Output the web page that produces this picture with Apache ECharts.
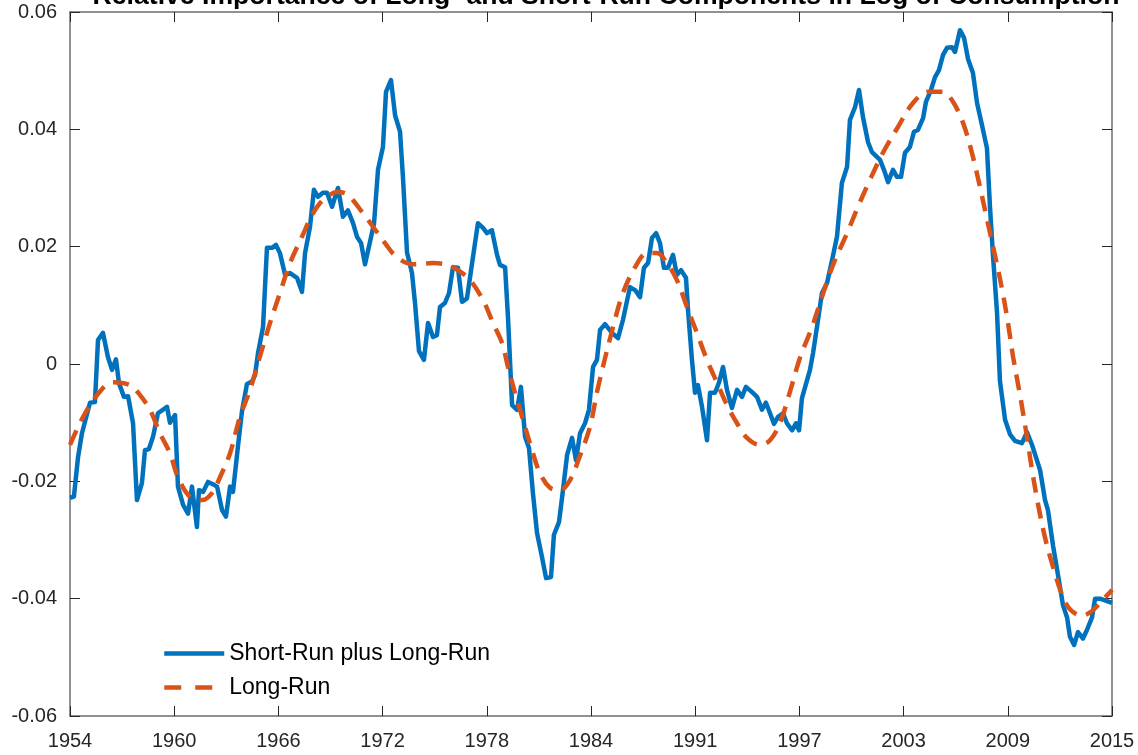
<!DOCTYPE html>
<html>
<head>
<meta charset="utf-8">
<script src="https://cdn.jsdelivr.net/npm/echarts@6/dist/echarts.min.js"></script>
<style>html,body{margin:0;padding:0;background:#fff;}#c{width:1138px;height:755px;}</style>
</head>
<body>
<div id="c"></div>
<script>
const titleText = 'Relative Importance of Long- and Short-Run Components in Log of Consumption';
const seriesNames = ['Short-Run plus Long-Run', 'Long-Run'];
const xTickLabels = ['1954','1960','1966','1972','1978','1984','1991','1997','2003','2009','2015'];
const xMin = 1954, xMax = 2015;
const yMin = -0.06, yMax = 0.06, yStep = 0.02;

const shortRunPlusLongRun = [
[1954.00,-0.0228],[1954.23,-0.0226],[1954.47,-0.0159],[1954.70,-0.0118],[1955.17,-0.0066],[1955.46,-0.0065],[1955.64,0.0041],[1955.93,0.0053],[1956.22,0.0012],[1956.46,-0.0010],[1956.69,0.0008],[1956.87,-0.0033],[1957.16,-0.0056],[1957.40,-0.0055],[1957.69,-0.0101],[1957.92,-0.0232],[1958.21,-0.0203],[1958.39,-0.0147],[1958.62,-0.0145],[1958.86,-0.0124],[1959.15,-0.0084],[1959.68,-0.0073],[1959.85,-0.0100],[1960.15,-0.0087],[1960.32,-0.0209],[1960.62,-0.0240],[1960.91,-0.0255],[1961.14,-0.0209],[1961.43,-0.0278],[1961.55,-0.0215],[1961.79,-0.0218],[1962.08,-0.0201],[1962.43,-0.0206],[1962.61,-0.0209],[1962.90,-0.0249],[1963.13,-0.0260],[1963.37,-0.0209],[1963.54,-0.0218],[1963.83,-0.0141],[1964.07,-0.0080],[1964.36,-0.0034],[1964.65,-0.0030],[1964.83,-0.0019],[1965.01,0.0019],[1965.30,0.0063],[1965.53,0.0198],[1965.83,0.0198],[1966.06,0.0203],[1966.29,0.0189],[1966.59,0.0152],[1966.88,0.0155],[1967.29,0.0147],[1967.58,0.0123],[1967.76,0.0189],[1968.05,0.0234],[1968.28,0.0297],[1968.52,0.0285],[1968.81,0.0292],[1969.05,0.0292],[1969.34,0.0268],[1969.69,0.0300],[1969.98,0.0251],[1970.27,0.0262],[1970.57,0.0240],[1970.80,0.0217],[1971.04,0.0206],[1971.27,0.0170],[1971.56,0.0208],[1971.80,0.0240],[1972.03,0.0331],[1972.32,0.0370],[1972.50,0.0464],[1972.79,0.0484],[1973.03,0.0424],[1973.32,0.0396],[1973.49,0.0319],[1973.73,0.0190],[1974.02,0.0155],[1974.20,0.0103],[1974.43,0.0022],[1974.72,0.0007],[1974.96,0.0070],[1975.25,0.0046],[1975.48,0.0049],[1975.66,0.0097],[1975.95,0.0104],[1976.19,0.0121],[1976.42,0.0165],[1976.71,0.0164],[1976.95,0.0106],[1977.24,0.0112],[1977.42,0.0148],[1977.88,0.0240],[1978.18,0.0232],[1978.41,0.0223],[1978.70,0.0228],[1979.00,0.0186],[1979.17,0.0169],[1979.47,0.0165],[1979.64,0.0080],[1979.88,-0.0070],[1980.17,-0.0078],[1980.40,-0.0039],[1980.64,-0.0124],[1980.87,-0.0143],[1981.10,-0.0220],[1981.34,-0.0288],[1981.63,-0.0329],[1981.87,-0.0365],[1982.16,-0.0363],[1982.33,-0.0291],[1982.63,-0.0269],[1982.86,-0.0215],[1983.10,-0.0155],[1983.39,-0.0126],[1983.62,-0.0164],[1983.86,-0.0118],[1984.15,-0.0101],[1984.38,-0.0078],[1984.62,-0.0005],[1984.85,0.0007],[1985.03,0.0058],[1985.32,0.0068],[1985.73,0.0053],[1986.08,0.0044],[1986.37,0.0075],[1986.78,0.0131],[1987.08,0.0126],[1987.37,0.0114],[1987.60,0.0164],[1987.84,0.0172],[1988.07,0.0215],[1988.31,0.0223],[1988.54,0.0206],[1988.77,0.0164],[1989.01,0.0164],[1989.30,0.0186],[1989.53,0.0152],[1989.77,0.0160],[1990.06,0.0147],[1990.18,0.0092],[1990.41,0.0007],[1990.59,-0.0049],[1990.76,-0.0036],[1991.00,-0.0073],[1991.29,-0.0130],[1991.47,-0.0049],[1991.76,-0.0049],[1991.99,-0.0032],[1992.23,-0.0005],[1992.46,-0.0044],[1992.75,-0.0075],[1993.05,-0.0044],[1993.34,-0.0056],[1993.57,-0.0039],[1993.93,-0.0048],[1994.22,-0.0056],[1994.51,-0.0078],[1994.74,-0.0066],[1994.98,-0.0084],[1995.21,-0.0102],[1995.45,-0.0090],[1995.74,-0.0084],[1995.97,-0.0101],[1996.27,-0.0113],[1996.50,-0.0101],[1996.68,-0.0113],[1996.85,-0.0058],[1997.32,-0.0010],[1997.50,0.0019],[1997.79,0.0075],[1998.02,0.0121],[1998.32,0.0138],[1998.61,0.0177],[1998.90,0.0217],[1999.19,0.0309],[1999.49,0.0336],[1999.66,0.0416],[1999.96,0.0438],[2000.19,0.0467],[2000.42,0.0421],[2000.72,0.0378],[2000.95,0.0361],[2001.24,0.0353],[2001.42,0.0348],[2001.65,0.0331],[2001.89,0.0310],[2002.18,0.0331],[2002.41,0.0319],[2002.65,0.0319],[2002.88,0.0360],[2003.17,0.0370],[2003.41,0.0396],[2003.64,0.0399],[2003.94,0.0419],[2004.11,0.0447],[2004.40,0.0467],[2004.64,0.0489],[2004.87,0.0501],[2005.11,0.0527],[2005.34,0.0539],[2005.63,0.0540],[2005.81,0.0532],[2006.10,0.0569],[2006.34,0.0556],[2006.57,0.0520],[2006.86,0.0496],[2007.10,0.0445],[2007.39,0.0407],[2007.68,0.0368],[2007.86,0.0266],[2008.03,0.0186],[2008.27,0.0087],[2008.44,-0.0029],[2008.74,-0.0095],[2009.03,-0.0120],[2009.32,-0.0131],[2009.73,-0.0135],[2010.02,-0.0116],[2010.32,-0.0138],[2010.79,-0.0181],[2011.08,-0.0232],[2011.25,-0.0249],[2011.55,-0.0310],[2011.84,-0.0360],[2012.13,-0.0411],[2012.37,-0.0432],[2012.54,-0.0465],[2012.78,-0.0479],[2013.01,-0.0457],[2013.30,-0.0468],[2013.54,-0.0453],[2013.83,-0.0432],[2014.01,-0.0400],[2014.30,-0.0400],[2014.71,-0.0404],[2015.00,-0.0407]
];

const longRun = [
[1954.00,-0.0138],[1954.88,-0.0084],[1955.93,-0.0041],[1956.52,-0.0031],[1957.51,-0.0036],[1958.10,-0.0053],[1958.68,-0.0078],[1959.27,-0.0118],[1959.85,-0.0152],[1960.32,-0.0193],[1961.03,-0.0227],[1961.73,-0.0232],[1962.31,-0.0220],[1962.78,-0.0193],[1963.37,-0.0152],[1963.95,-0.0090],[1964.54,-0.0044],[1965.12,0.0013],[1965.71,0.0070],[1966.29,0.0121],[1966.88,0.0172],[1967.58,0.0217],[1968.23,0.0257],[1968.93,0.0283],[1969.69,0.0293],[1970.27,0.0288],[1971.15,0.0257],[1971.74,0.0234],[1972.44,0.0206],[1973.14,0.0182],[1974.08,0.0170],[1975.25,0.0172],[1976.07,0.0169],[1976.71,0.0160],[1977.42,0.0143],[1978.18,0.0109],[1978.76,0.0070],[1979.29,0.0036],[1979.64,-0.0005],[1980.05,-0.0049],[1980.52,-0.0095],[1981.05,-0.0147],[1981.51,-0.0186],[1982.10,-0.0211],[1982.69,-0.0215],[1983.27,-0.0198],[1983.86,-0.0156],[1984.44,-0.0107],[1984.91,-0.0040],[1985.79,0.0063],[1986.37,0.0121],[1987.08,0.0165],[1987.78,0.0189],[1988.36,0.0189],[1988.95,0.0172],[1989.53,0.0143],[1990.12,0.0097],[1990.70,0.0053],[1991.29,0.0007],[1991.88,-0.0032],[1992.46,-0.0070],[1993.05,-0.0101],[1993.63,-0.0126],[1994.39,-0.0138],[1994.98,-0.0130],[1995.56,-0.0101],[1996.15,-0.0047],[1996.75,0.0012],[1997.44,0.0063],[1998.02,0.0114],[1998.67,0.0169],[1999.49,0.0223],[2000.13,0.0268],[2000.83,0.0314],[2001.59,0.0360],[2002.47,0.0404],[2003.35,0.0445],[2004.23,0.0464],[2005.11,0.0464],[2005.69,0.0447],[2006.28,0.0411],[2006.80,0.0360],[2007.27,0.0302],[2007.68,0.0247],[2008.15,0.0185],[2008.56,0.0128],[2008.91,0.0070],[2009.21,0.0012],[2009.61,-0.0052],[2010.02,-0.0124],[2010.32,-0.0181],[2010.67,-0.0239],[2011.08,-0.0296],[2011.55,-0.0346],[2012.07,-0.0393],[2012.54,-0.0418],[2013.24,-0.0429],[2013.83,-0.0421],[2014.30,-0.0407],[2014.88,-0.0389],[2015.00,-0.0385]
];

const tickStep = (xMax - xMin) / (xTickLabels.length - 1);
const xTickValues = xTickLabels.map((_, i) => xMin + i * tickStep);

const FONT = 'Liberation Sans, Arial, Helvetica, sans-serif';
const axisLineStyle = { color: '#6e6e6e', width: 1.5 };
const tickStyle = { color: '#262626', width: 1 };

const chart = echarts.init(document.getElementById('c'), null, { renderer: 'canvas' });
chart.setOption({
  animation: false,
  backgroundColor: '#ffffff',
  title: {
    text: titleText,
    left: 601,
    top: -22,
    textAlign: 'center',
    textStyle: { fontFamily: FONT, fontSize: 26.6, fontWeight: 'bold', color: '#000' }
  },
  legend: {
    orient: 'vertical',
    left: 162,
    top: 642,
    padding: 0,
    itemWidth: 60,
    itemHeight: 14,
    itemGap: 11,
    itemStyle: { opacity: 0 },
    lineStyle: { width: 4.5 },
    textStyle: { fontFamily: FONT, fontSize: 23, color: '#000' },
    data: [
      { name: seriesNames[0] },
      { name: seriesNames[1], lineStyle: { type: [17, 14], width: 4.5 } }
    ]
  },
  grid: { left: 70, right: 26, top: 12, bottom: 39, containLabel: false },
  xAxis: [
    {
      type: 'value', min: xMin, max: xMax, position: 'bottom',
      axisLine: { show: true, onZero: false, lineStyle: axisLineStyle },
      axisTick: { show: true, inside: true, length: 10, lineStyle: tickStyle, customValues: xTickValues },
      axisLabel: {
        show: true, customValues: xTickValues, margin: 15,
        fontFamily: FONT, fontSize: 20, color: '#262626',
        formatter: v => xTickLabels[Math.round((v - xMin) / tickStep)]
      },
      splitLine: { show: false }
    },
    {
      type: 'value', min: xMin, max: xMax, position: 'top',
      axisLine: { show: true, onZero: false, lineStyle: axisLineStyle },
      axisTick: { show: true, inside: true, length: 10, lineStyle: tickStyle, customValues: xTickValues },
      axisLabel: { show: false },
      splitLine: { show: false }
    }
  ],
  yAxis: [
    {
      type: 'value', min: yMin, max: yMax, interval: yStep, position: 'left',
      axisLine: { show: true, onZero: false, lineStyle: axisLineStyle },
      axisTick: { show: true, inside: true, length: 10, lineStyle: tickStyle },
      axisLabel: {
        show: true, margin: 13, fontFamily: FONT, fontSize: 20, color: '#262626',
        formatter: v => Math.abs(v) < 1e-9 ? '0' : v.toFixed(2)
      },
      splitLine: { show: false }
    },
    {
      type: 'value', min: yMin, max: yMax, interval: yStep, position: 'right',
      axisLine: { show: true, onZero: false, lineStyle: axisLineStyle },
      axisTick: { show: true, inside: true, length: 10, lineStyle: tickStyle },
      axisLabel: { show: false },
      splitLine: { show: false }
    }
  ],
  series: [
    {
      name: seriesNames[0], type: 'line', xAxisIndex: 0, yAxisIndex: 0,
      data: shortRunPlusLongRun, showSymbol: false, symbol: 'none',
      lineStyle: { color: '#0072BD', width: 4.5, join: 'round' },
      itemStyle: { color: '#0072BD' }, z: 2
    },
    {
      name: seriesNames[1], type: 'line', xAxisIndex: 0, yAxisIndex: 0,
      data: longRun, showSymbol: false, symbol: 'none', smooth: 0.35,
      lineStyle: { color: '#D95319', width: 4.5, type: [16, 10] },
      itemStyle: { color: '#D95319' }, z: 3
    }
  ]
});
</script>
</body>
</html>
